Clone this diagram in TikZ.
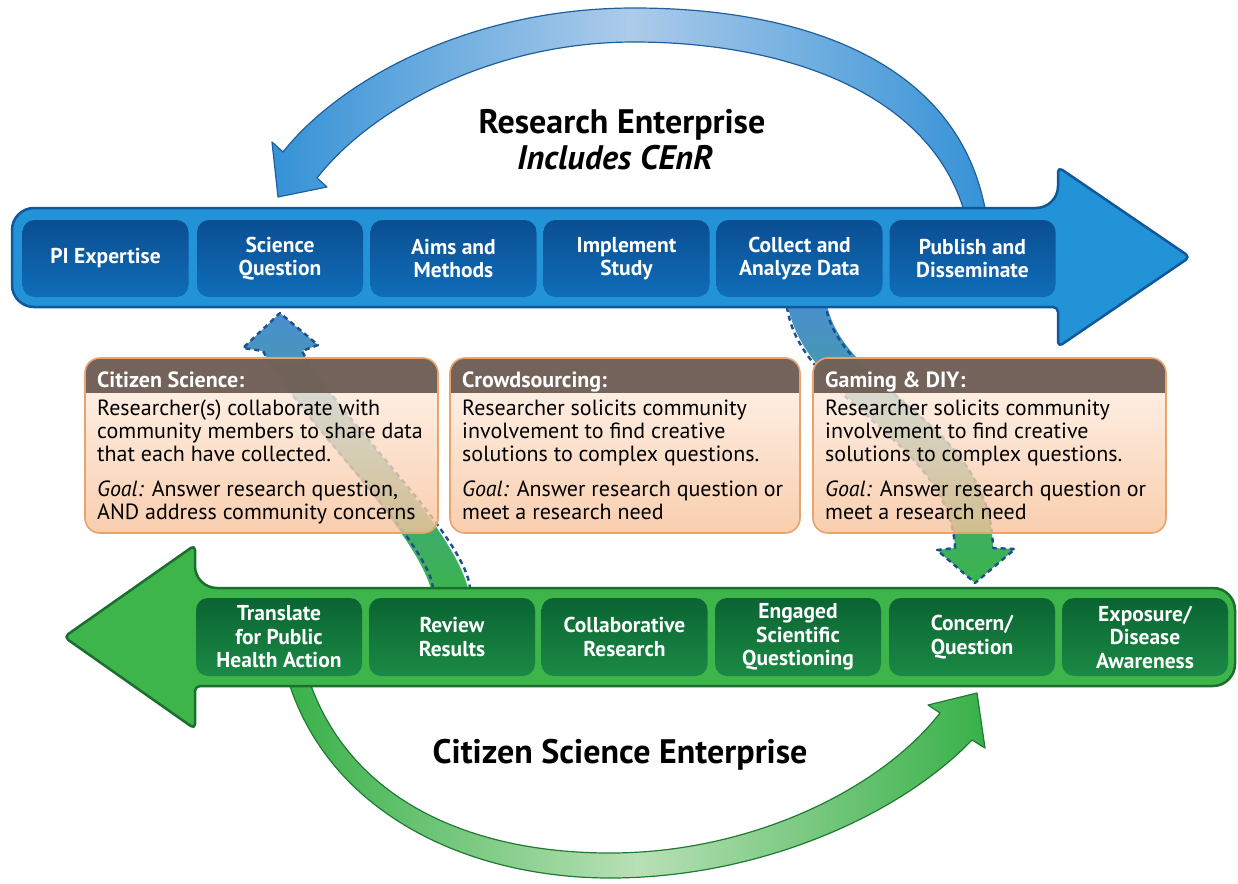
\documentclass[tikz,border=0pt]{standalone}
\usepackage{fontspec}
\setmainfont{PT Sans}
\definecolor{bandB}{HTML}{2293D6}
\definecolor{bandBd}{HTML}{11579B}
\definecolor{boxBt}{HTML}{0B4E92}
\definecolor{boxBb}{HTML}{0F6DB8}
\definecolor{bandG}{HTML}{3DB54B}
\definecolor{bandGd}{HTML}{1A6E2E}
\definecolor{boxGt}{HTML}{0A6432}
\definecolor{boxGb}{HTML}{1B8A45}
\definecolor{hdr}{HTML}{6A5950}
\definecolor{obord}{HTML}{E9A46D}
\definecolor{otop}{HTML}{FEF3EA}
\definecolor{obot}{HTML}{F8C29A}
\definecolor{arcB}{HTML}{3592D6}
\definecolor{arcBm}{HTML}{ADCBEA}
\definecolor{arcBd}{HTML}{1F5F9E}
\definecolor{arcG}{HTML}{38B149}
\definecolor{arcGm}{HTML}{B9E0B6}
\definecolor{arcGd}{HTML}{1F7A33}
\definecolor{dashB}{HTML}{4A8FD1}
\definecolor{dashG}{HTML}{3BB54A}
\definecolor{dashO}{HTML}{1E4F8D}
\newcommand\bxfont{\fontsize{21.5}{23.5}\selectfont\bfseries}
\newcommand\txfont{\fontsize{22}{23}\selectfont}
\newcommand\hdfont{\fontsize{22}{23}\selectfont\bfseries}
\newcommand\ttfont{\fontsize{34}{36}\selectfont\bfseries}
\begin{document}
\begin{tikzpicture}[x=1pt,y=-1pt,
  bbox/.style={rounded corners=12pt, top color=boxBt, bottom color=boxBb, minimum width=166pt, minimum height=77pt, text=white, font=\bxfont, align=center, inner sep=0pt},
  gbox/.style={rounded corners=12pt, top color=boxGt, bottom color=boxGb, minimum width=166pt, minimum height=78pt, text=white, font=\bxfont, align=center, inner sep=0pt},
  toparc/.style={left color=arcB, right color=arcB, middle color=arcBm, draw=arcBd, line width=1.2pt, line join=round},
  botarc/.style={left color=arcG, right color=arcG, middle color=arcGm, draw=arcGd, line width=1.2pt, line join=round},
  dasharrow/.style={draw=dashO, line width=2.4pt, dash pattern=on 5pt off 4pt, line join=round},
  body/.style={anchor=north west, inner sep=0pt, font=\txfont, align=left},
  head/.style={anchor=base west, inner sep=0pt, font=\hdfont, text=white},
  title/.style={inner sep=0pt, font=\ttfont}
]
\useasboundingbox (0,0) rectangle (1238,883);

% ---- big curved arrows ----
\shadedraw[toparc] (986,214) .. controls (960,60) and (800,8) .. (634,8)
  .. controls (470,8) and (340,80) .. (283,152) -- (272,142) -- (278,197) -- (327,187) -- (317,178)
  .. controls (370,110) and (490,42) .. (634,42) .. controls (780,42) and (930,90) .. (965,214) -- cycle;
\shadedraw[botarc] (288,680) .. controls (330,815) and (470,878) .. (610,878)
  .. controls (760,878) and (900,815) .. (972,740) -- (985,748) -- (977,693) -- (928,705) -- (940,713)
  .. controls (880,790) and (750,853) .. (610,853) .. controls (470,853) and (350,800) .. (309,680) -- cycle;

% ---- dashed connecting arrows ----
\shade[top color=dashB, bottom color=dashG] (433,600) .. controls (428,540) and (300,420) .. (263,351)
  -- (243,348) -- (280,313) -- (318,345) -- (302,351) .. controls (340,420) and (465,535) .. (470,600) -- cycle;
\draw[dasharrow] (433,588) .. controls (428,540) and (300,420) .. (263,351)
  -- (243,348) -- (280,313) -- (318,345) -- (302,351) .. controls (340,420) and (465,535) .. (470,588);
\shade[top color=dashB, bottom color=dashG] (787,300) .. controls (800,400) and (950,440) .. (955,548)
  -- (937,550) -- (975,583) -- (1015,549) -- (993,548) .. controls (990,420) and (840,390) .. (826,300) -- cycle;
\draw[dasharrow] (787,307) .. controls (800,400) and (950,440) .. (955,548)
  -- (937,550) -- (975,583) -- (1015,549) -- (993,548) .. controls (990,420) and (840,390) .. (826,307);

% ---- blue band ----
\draw[fill=bandB, draw=bandBd, line width=2.5pt, line join=round]
  (12,258) [rounded corners=22pt] |- (1058,208) [rounded corners=5pt] -- (1058,167) -- (1190,257)
  -- (1058,347) -- (1058,307) [rounded corners=22pt] -| (12,258) -- cycle;
\node[bbox] (pi)  at (105.5,258.5) {PI Expertise};
\node[bbox] (sq)  at (280,258.5)   {Science\\Question};
\node[bbox] (am)  at (453.5,258.5) {Aims and\\Methods};
\node[bbox] (is)  at (626.5,258.5) {Implement\\Study};
\node[bbox] (cad) at (799.5,258.5) {Collect and\\Analyze Data};
\node[bbox] (pd)  at (972.5,258.5) {Publish and\\Disseminate};

% ---- green band ----
\draw[fill=bandG, draw=bandGd, line width=2.5pt, line join=round]
  (1235,637) [rounded corners=22pt] |- (195,588) [rounded corners=5pt] -- (195,545) -- (64,637)
  -- (195,729) -- (195,686) [rounded corners=22pt] -| (1235,637) -- cycle;
\node[gbox] (tr) at (279,637)    {Translate\\for Public\\Health Action};
\node[gbox] (rr) at (452,637)    {Review\\Results};
\node[gbox] (cr) at (624.5,637)  {Collaborative\\Research};
\node[gbox] (es) at (798,637)    {Engaged\\Scientific\\Questioning};
\node[gbox] (cq) at (972,637)    {Concern/\\Question};
\node[gbox] (ed) at (1145,637)   {Exposure/\\Disease\\Awareness};

% ---- orange boxes ----
\foreach \xa/\xb in {85/438, 450/800, 813/1166} {
  \shade[rounded corners=15pt, top color=otop, bottom color=obot, fill opacity=0.8] (\xa,358) rectangle (\xb,533);
  \begin{scope}
    \clip[rounded corners=15pt] (\xa,358) rectangle (\xb,533);
    \fill[hdr, fill opacity=0.93] (\xa,358) rectangle (\xb,393);
  \end{scope}
  \draw[obord, line width=1.6pt, rounded corners=15pt] (\xa,358) rectangle (\xb,533);
}
\node[head] (h1) at (97,387)  {Citizen Science:};
\node[head] (h2) at (462,387) {Crowdsourcing:};
\node[head] (h3) at (825,387) {Gaming \& DIY:};
\node[body] (t1) at (97,400) {Researcher(s) collaborate with\\community members to share data\\that each have collected.\\[12pt]\textit{Goal:} Answer research question,\\AND address community concerns};
\node[body] (t2) at (462,400) {Researcher solicits community\\involvement to find creative\\solutions to complex questions.\\[12pt]\textit{Goal:} Answer research question or\\meet a research need};
\node[body] (t3) at (825,400) {Researcher solicits community\\involvement to find creative\\solutions to complex questions.\\[12pt]\textit{Goal:} Answer research question or\\meet a research need};

% ---- titles ----
\node[title] (re) at (622,125) {Research Enterprise};
\node[title] (ic) at (615,158) {\itshape Includes CEnR};
\node[title] (cs) at (620,755) {Citizen Science Enterprise};
\end{tikzpicture}
\end{document}
